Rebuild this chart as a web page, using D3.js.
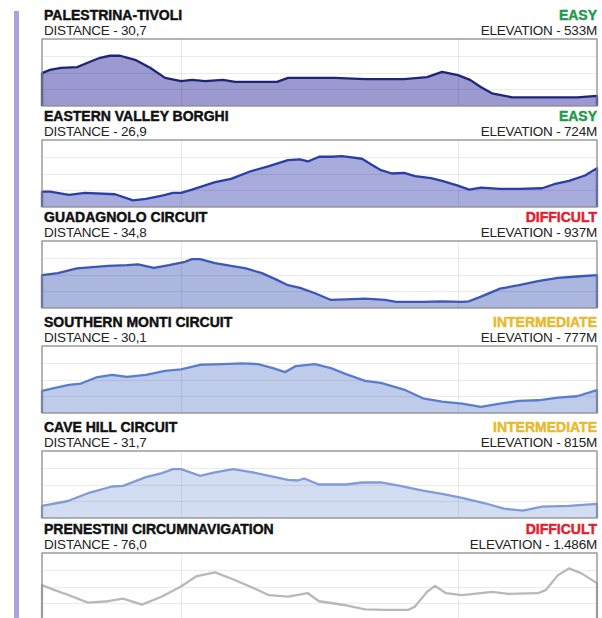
<!DOCTYPE html>
<html>
<head>
<meta charset="utf-8">
<script src="https://cdn.jsdelivr.net/npm/d3@7"></script>
<style>
  html, body { margin: 0; padding: 0; background: #fff; }
  svg { display: block; }
</style>
</head>
<body>
<svg id="chart" width="602" height="618"></svg>
<script>
// Trail names, difficulty grades and headline figures
const trails = [
  "PALESTRINA-TIVOLI",
  "EASTERN VALLEY BORGHI",
  "GUADAGNOLO CIRCUIT",
  "SOUTHERN MONTI CIRCUIT",
  "CAVE HILL CIRCUIT",
  "PRENESTINI CIRCUMNAVIGATION"
];
const difficulty = ["EASY", "EASY", "DIFFICULT", "INTERMEDIATE", "INTERMEDIATE", "DIFFICULT"];
const distanceKm = [30.7, 26.9, 34.8, 30.1, 31.7, 76.0];
const elevationM = [533, 724, 937, 777, 815, 1486];

// Relative elevation profiles: [km along the trail, height 0-100]
const profilePalestrina = [
  [0, 49], [0.44, 54], [1.05, 57], [1.94, 58], [2.66, 66], [3.21, 72], [3.76, 75], [4.32, 75],
  [5.15, 69], [5.98, 57], [6.81, 42], [7.69, 37], [8.3, 39], [9.02, 37], [10.01, 39], [10.68, 36],
  [13.0, 36], [13.61, 42], [14.72, 42], [16.21, 42], [17.87, 40], [20.03, 40], [21.3, 43],
  [22.13, 51], [23.01, 46], [23.68, 39], [24.29, 28], [24.89, 19], [26.0, 13], [27.55, 13],
  [29.6, 13], [30.7, 15]
];
const profileEastern = [
  [0, 23], [0.39, 23], [1.31, 18], [2.08, 21], [3.54, 19], [4.41, 10], [5.04, 12], [5.82, 17],
  [6.35, 21], [6.74, 21], [7.27, 26], [8.39, 37], [9.16, 42], [10.08, 53], [11.0, 61], [11.92, 70],
  [12.51, 71], [12.89, 68], [13.43, 75], [14.01, 75], [14.54, 76], [15.51, 72], [16.04, 62],
  [16.43, 55], [16.96, 50], [17.55, 51], [18.08, 46], [18.85, 43], [19.39, 39], [20.16, 32],
  [20.7, 26], [21.28, 29], [22.2, 27], [23.12, 27], [24.24, 28], [24.82, 34], [25.54, 39],
  [26.32, 47], [26.9, 58]
];
const profileGuadagnolo = [
  [0, 49], [1.0, 52], [2.19, 59], [4.14, 63], [5.33, 64], [6.02, 65], [7.02, 60], [7.96, 64],
  [8.97, 69], [9.41, 73], [9.91, 73], [10.85, 67], [11.85, 63], [12.79, 59], [13.79, 52],
  [14.73, 42], [15.42, 34], [16.18, 30], [17.12, 22], [18.12, 12], [19.06, 13], [20.25, 14],
  [21.51, 12], [22.2, 9], [23.89, 9], [25.08, 10], [26.33, 9], [26.77, 10], [27.53, 17],
  [28.72, 29], [29.91, 34], [31.1, 40], [32.35, 45], [33.54, 47], [34.8, 49]
];
const profileSouthern = [
  [0, 33], [0.65, 37], [1.46, 42], [2.11, 44], [2.93, 53], [3.8, 57], [4.61, 54], [5.64, 57],
  [6.67, 63], [7.54, 65], [8.57, 72], [9.82, 73], [10.85, 74], [11.71, 73], [12.53, 67],
  [13.18, 61], [13.77, 70], [14.8, 73], [15.67, 67], [16.49, 58], [17.52, 48], [18.38, 45],
  [19.63, 35], [20.66, 22], [21.69, 17], [22.78, 14], [23.81, 9], [24.84, 14], [25.87, 18],
  [26.9, 19], [27.98, 23], [29.01, 25], [30.1, 34]
];
const profileCaveHill = [
  [0, 18], [1.43, 25], [2.63, 37], [4.0, 47], [4.63, 48], [5.94, 61], [6.85, 67], [7.48, 73],
  [7.94, 73], [9.02, 63], [9.88, 68], [10.91, 73], [11.88, 69], [12.97, 63], [14.05, 57],
  [14.62, 56], [14.97, 59], [15.82, 50], [17.36, 50], [18.28, 53], [19.36, 53], [20.45, 48],
  [21.76, 41], [22.85, 36], [23.99, 30], [25.3, 22], [26.39, 14], [27.47, 11], [28.56, 17],
  [30.1, 18], [31.7, 21]
];
const profilePrenestini = [
  [0, 52], [1.64, 45], [3.7, 37], [6.3, 26], [9.04, 28], [11.09, 32], [13.69, 23], [16.43, 35],
  [19.03, 50], [21.09, 65], [23.69, 71], [25.88, 62], [28.48, 50], [31.08, 37], [33.68, 35],
  [36.42, 40], [37.93, 28], [41.63, 22], [44.23, 16], [46.97, 15], [50.12, 15], [51.08, 20],
  [52.72, 42], [53.82, 51], [55.32, 40], [57.51, 37], [60.12, 40], [61.62, 42], [63.81, 39],
  [67.92, 40], [69.02, 45], [70.66, 67], [72.17, 77], [73.81, 70], [76.0, 55]
];
const profiles = [profilePalestrina, profileEastern, profileGuadagnolo,
                  profileSouthern, profileCaveHill, profilePrenestini];

// Styling per panel: darker at the top, fading towards the bottom
const lineColors = ["#1d2676", "#2b3ea6", "#3c58b6", "#5a7dcf", "#809bd7", "#b8b8b8"];
const fillColors = ["#9c99d1", "#a8acdc", "#acb7e0", "#bfcbea", "#d3ddf2", "#ffffff"];
const gradeColors = { EASY: "#1f9a4a", INTERMEDIATE: "#e8b92c", DIFFICULT: "#e2202e" };

const svg = d3.select("#chart");
const left = 42, right = 597;
const boxH = 67;
const boxTops = [39, 140, 241, 346, 451, 553];

const it = d3.formatLocale({ decimal: ",", thousands: ".", grouping: [3], currency: ["", "€"] });
const fmtDist = it.format(",.1f");
const fmtElev = it.format(",d");

// side accent bar
svg.append("rect")
  .attr("x", 14).attr("y", 11).attr("width", 5).attr("height", 618 - 11)
  .attr("fill", "#a8a4d8");

const font = "'Liberation Sans', Arial, sans-serif";

function heading(g, xPos, yPos, anchor, color, txt) {
  g.append("text")
    .attr("x", xPos).attr("y", yPos).attr("text-anchor", anchor)
    .attr("font-family", font).attr("font-weight", 700)
    .attr("font-size", 14).attr("fill", color)
    .attr("stroke", color).attr("stroke-width", 0.45)
    .text(txt);
}
function subheading(g, xPos, yPos, anchor, txt) {
  g.append("text")
    .attr("x", xPos).attr("y", yPos).attr("text-anchor", anchor)
    .attr("font-family", font)
    .attr("font-size", 13.5).attr("fill", "#222")
    .attr("letter-spacing", -0.2)
    .text(txt);
}

trails.forEach((name, i) => {
  const top = boxTops[i];
  const g = svg.append("g");

  const x = d3.scaleLinear().domain([0, distanceKm[i]]).range([left, right]);
  const y = d3.scaleLinear().domain([0, 100]).range([top + boxH, top]);

  heading(g, 44, top - 19, "start", "#111", name);
  heading(g, right, top - 19, "end", gradeColors[difficulty[i]], difficulty[i]);
  subheading(g, 44, top - 4, "start", "DISTANCE - " + fmtDist(distanceKm[i]));
  subheading(g, right, top - 4, "end", "ELEVATION - " + fmtElev(elevationM[i]) + "M");

  // profile area
  const data = profiles[i];
  const area = d3.area().x(d => x(d[0])).y0(y(0)).y1(d => y(d[1]));
  g.append("path").datum(data)
    .attr("d", area)
    .attr("fill", fillColors[i]);

  // faint grid
  const grid = g.append("g").attr("stroke", "#000").attr("stroke-opacity", 0.08).attr("stroke-width", 1);
  [25, 50, 75].forEach(v => {
    grid.append("line")
      .attr("x1", left).attr("x2", right)
      .attr("y1", Math.round(y(v)) + 0.5).attr("y2", Math.round(y(v)) + 0.5);
  });
  [0.25, 0.75].forEach(f => {
    const xv = Math.round(x(distanceKm[i] * f)) + 0.5;
    grid.append("line").attr("x1", xv).attr("x2", xv).attr("y1", top).attr("y2", top + boxH);
  });

  // profile outline, dropping to the baseline at both ends
  const outline = [[0, 0], ...data, [distanceKm[i], 0]];
  const line = d3.line().x(d => x(d[0])).y(d => y(d[1]));
  g.append("path").datum(outline)
    .attr("d", line)
    .attr("fill", "none")
    .attr("stroke", lineColors[i])
    .attr("stroke-width", 2.3)
    .attr("stroke-linejoin", "round");

  // frame
  g.append("rect")
    .attr("x", left).attr("y", top).attr("width", right - left).attr("height", boxH)
    .attr("fill", "none").attr("stroke", "#8c8c8c").attr("stroke-width", 1.3);
});
</script>
</body>
</html>
